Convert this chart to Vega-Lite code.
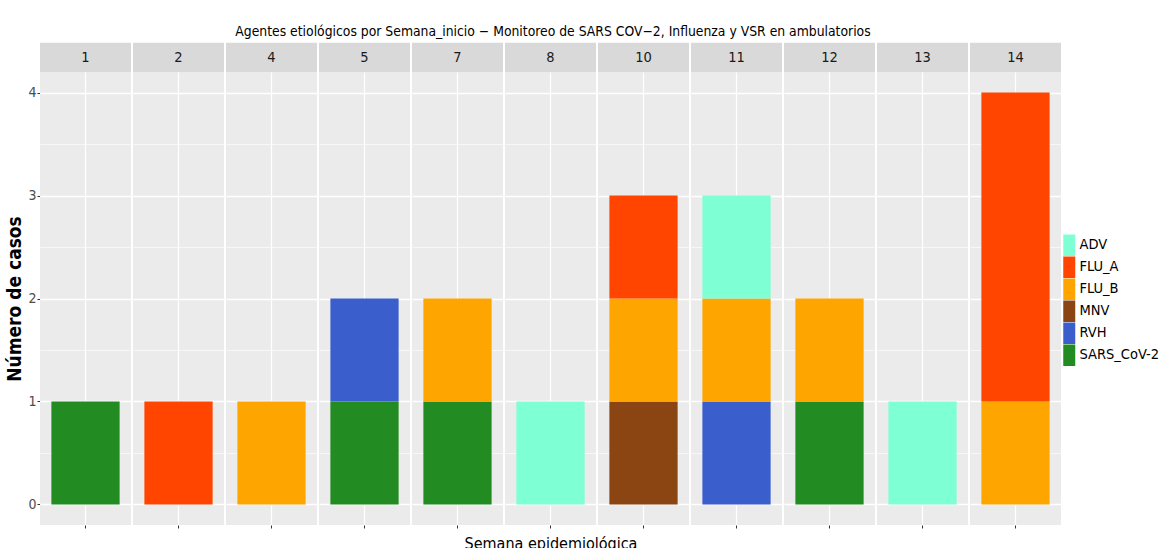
{
  "$schema": "https://vega.github.io/schema/vega-lite/v6.json",
  "background": "white",
  "padding": {"left": 5, "top": 25, "right": 0, "bottom": 0},
  "title": {
    "text": "Agentes etiológicos por Semana_inicio − Monitoreo de SARS COV−2, Influenza y VSR en ambulatorios",
    "font": "DejaVu Sans Condensed, sans-serif",
    "fontSize": 13.8,
    "fontWeight": "normal",
    "color": "black",
    "anchor": "middle",
    "dx": -30,
    "offset": 4
  },
  "data": {
    "values": [
      {"semana": 1, "agente": "SARS_CoV-2", "n": 1},
      {"semana": 2, "agente": "FLU_A", "n": 1},
      {"semana": 4, "agente": "FLU_B", "n": 1},
      {"semana": 5, "agente": "SARS_CoV-2", "n": 1},
      {"semana": 5, "agente": "RVH", "n": 1},
      {"semana": 7, "agente": "SARS_CoV-2", "n": 1},
      {"semana": 7, "agente": "FLU_B", "n": 1},
      {"semana": 8, "agente": "ADV", "n": 1},
      {"semana": 10, "agente": "MNV", "n": 1},
      {"semana": 10, "agente": "FLU_B", "n": 1},
      {"semana": 10, "agente": "FLU_A", "n": 1},
      {"semana": 11, "agente": "RVH", "n": 1},
      {"semana": 11, "agente": "FLU_B", "n": 1},
      {"semana": 11, "agente": "ADV", "n": 1},
      {"semana": 12, "agente": "SARS_CoV-2", "n": 1},
      {"semana": 12, "agente": "FLU_B", "n": 1},
      {"semana": 13, "agente": "ADV", "n": 1},
      {"semana": 14, "agente": "FLU_B", "n": 1},
      {"semana": 14, "agente": "FLU_A", "n": 3}
    ]
  },
  "facet": {
    "column": {
      "field": "semana",
      "type": "ordinal",
      "sort": [1, 2, 4, 5, 7, 8, 10, 11, 12, 13, 14],
      "header": {
        "labels": false,
        "titleOrient": "bottom",
        "title": "Semana epidemiológica",
        "titleFont": "DejaVu Sans Condensed, sans-serif",
        "titleFontSize": 16,
        "titleFontWeight": "normal",
        "titleColor": "black",
        "titlePadding": -3
      }
    }
  },
  "spacing": 2,
  "spec": {
    "width": 91,
    "height": 453,
    "layer": [
      {
        "transform": [{"aggregate": [{"op": "count", "as": "c"}], "groupby": ["semana"]}],
        "mark": {"type": "rect", "color": "#D9D9D9"},
        "encoding": {
          "y": {"datum": 4.2, "type": "quantitative"},
          "y2": {"datum": 4.483}
        }
      },
      {
        "transform": [{"aggregate": [{"op": "count", "as": "c"}], "groupby": ["semana"]}],
        "mark": {"type": "text", "font": "DejaVu Sans Condensed, sans-serif", "fontSize": 14.5, "color": "#1A1A1A", "baseline": "middle", "align": "center"},
        "encoding": {
          "x": {"field": "semana", "type": "nominal", "bandPosition": 0.5},
          "y": {"datum": 4.34, "type": "quantitative"},
          "text": {"field": "semana", "type": "nominal"}
        }
      },
      {
        "mark": {"type": "bar"},
        "encoding": {
          "x": {
            "field": "semana",
            "type": "nominal",
            "scale": {"paddingInner": 0, "paddingOuter": 0.1667},
            "axis": {
              "title": null,
              "labels": false,
              "domain": false,
              "ticks": true,
              "tickSize": 3,
              "tickColor": "#333333",
              "bandPosition": 0.5,
              "grid": true,
              "gridColor": "white",
              "gridWidth": 1.2
            }
          },
          "y": {
            "aggregate": "sum",
            "field": "n",
            "type": "quantitative",
            "stack": "zero",
            "scale": {"domain": [-0.2, 4.2], "nice": false, "zero": false},
            "axis": {
              "title": "Número de casos",
              "titleFont": "DejaVu Sans Condensed, sans-serif",
              "titleFontSize": 19,
              "titleFontWeight": "bold",
              "titleColor": "black",
              "titlePadding": 3,
              "values": [0, 0.5, 1, 1.5, 2, 2.5, 3, 3.5, 4],
              "labelExpr": "datum.value % 1 === 0 ? format(datum.value, 'd') : ''",
              "labelFont": "DejaVu Sans Condensed, sans-serif",
              "labelFontSize": 14,
              "labelColor": "#4D4D4D",
              "labelPadding": 1,
              "domain": false,
              "tickSize": 3,
              "tickColor": "#333333",
              "tickOpacity": {"condition": {"test": "datum.value % 1 === 0", "value": 1}, "value": 0},
              "grid": true,
              "gridColor": "white",
              "gridWidth": {"condition": {"test": "datum.value % 1 === 0", "value": 1.3}, "value": 0.6}
            }
          },
          "color": {
            "field": "agente",
            "type": "nominal",
            "scale": {
              "domain": ["ADV", "FLU_A", "FLU_B", "MNV", "RVH", "SARS_CoV-2"],
              "range": ["#7FFFD4", "#FF4500", "#FFA500", "#8B4513", "#3A5FCD", "#228B22"]
            },
            "legend": {
              "title": null,
              "orient": "none",
              "legendX": 1022,
              "legendY": 166,
              "symbolType": "M-1,-1.79H1V1.79H-1Z",
              "symbolSize": 144,
              "symbolStrokeWidth": 0,
              "rowPadding": 0,
              "labelFont": "DejaVu Sans Condensed, sans-serif",
              "labelFontSize": 14.5,
              "labelColor": "black",
              "labelOffset": 3
            }
          },
          "order": {"field": "agente", "sort": "descending"}
        }
      }
    ]
  },
  "resolve": {"scale": {"x": "independent"}},
  "config": {
    "view": {"fill": "#EBEBEB", "stroke": null},
    "bar": {"strokeWidth": 0}
  }
}
